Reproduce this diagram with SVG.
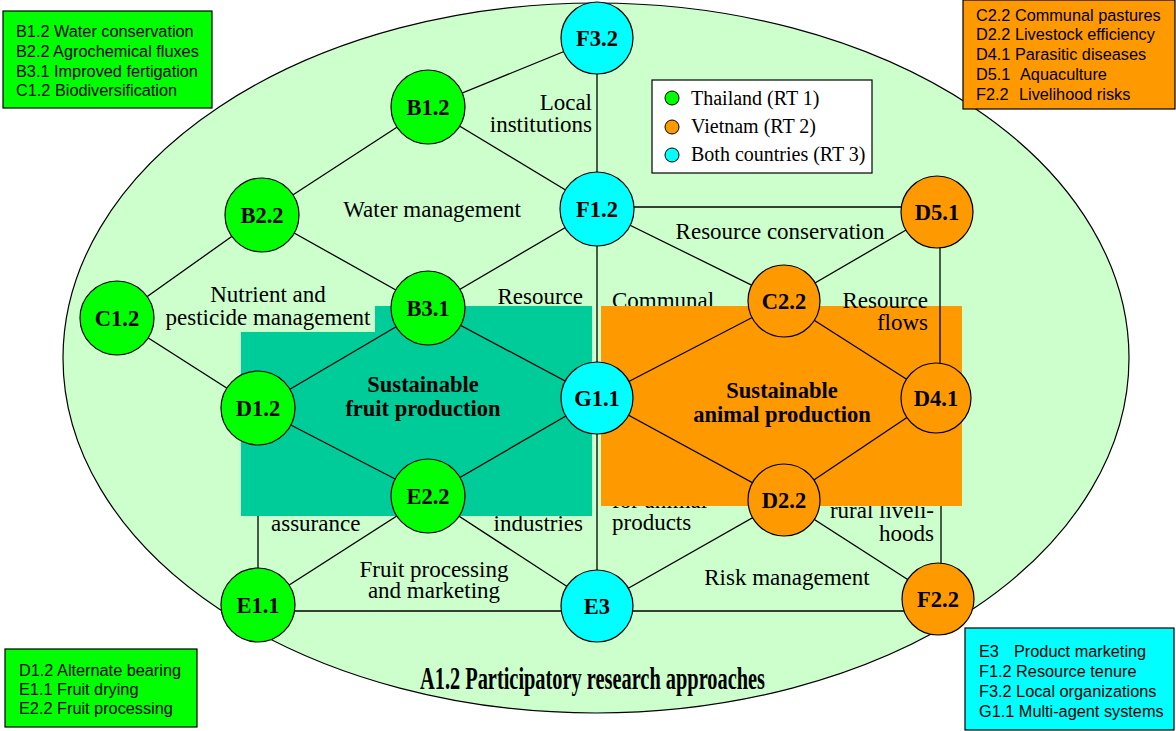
<svg xmlns="http://www.w3.org/2000/svg" width="1176" height="731" viewBox="0 0 1176 731">
<style>
.lbl{font-family:"Liberation Serif","Times New Roman",serif;font-size:23px;fill:#000}
.nd circle{stroke:#000;stroke-width:1.2}
.nd text{font-family:"Liberation Serif","Times New Roman",serif;font-size:22.5px;font-weight:bold;text-anchor:middle;fill:#000}
.g{fill:#00FF00}.o{fill:#FF9900}.c{fill:#00FFFF}
.ln line{stroke:#000;stroke-width:1.3}
.bx{stroke:#000;stroke-width:1.2}
.bt{font-family:"Liberation Sans",Arial,sans-serif;font-size:16.3px;fill:#000}
.lg{font-family:"Liberation Serif","Times New Roman",serif;font-size:20px;fill:#000}
.big{font-family:"Liberation Serif","Times New Roman",serif;font-size:22.5px;font-weight:bold;text-anchor:middle;fill:#000}
</style>
<rect width="1176" height="731" fill="#FFFFFF"/>
<ellipse cx="596" cy="358" rx="533" ry="355" fill="#CCFFCC" stroke="#000" stroke-width="1.2"/>

<g id="labels-back">
<text class="lbl" x="612" y="308">Communal</text>
<text class="lbl" x="612" y="508">for animal</text>
<text class="lbl" x="612" y="530">products</text>
<text class="lbl" x="934" y="518" text-anchor="end">rural liveli-</text>
<text class="lbl" x="934" y="541" text-anchor="end">hoods</text>
<text class="lbl" x="271" y="531">assurance</text>
<text class="lbl" x="583" y="531" text-anchor="end">industries</text>
</g>

<g id="connectors-back" class="ln">
<line x1="258" y1="408" x2="258" y2="605"/>
<line x1="941" y1="398" x2="941" y2="599"/>
<line x1="597" y1="209" x2="597" y2="606"/>
</g>

<rect id="fruit-area" x="241" y="306" width="351" height="210" fill="#00CC99"/>
<rect id="animal-area" x="601" y="306" width="361" height="200" fill="#FF9900"/>

<g id="labels">
<rect x="160" y="306" width="215" height="26" fill="#CCFFCC"/>
<text class="lbl" x="268" y="302" text-anchor="middle">Nutrient and</text>
<text class="lbl" x="268" y="325" text-anchor="middle">pesticide management</text>
<text class="lbl" x="592" y="110" text-anchor="end">Local</text>
<text class="lbl" x="592" y="132" text-anchor="end">institutions</text>
<text class="lbl" x="432" y="217" text-anchor="middle">Water management</text>
<text class="lbl" x="583" y="304" text-anchor="end">Resource</text>
<text class="lbl" x="780" y="239" text-anchor="middle">Resource conservation</text>
<text class="lbl" x="928" y="308" text-anchor="end">Resource</text>
<text class="lbl" x="928" y="330" text-anchor="end">flows</text>
<text class="lbl" x="434" y="577" text-anchor="middle">Fruit processing</text>
<text class="lbl" x="434" y="598" text-anchor="middle">and marketing</text>
<text class="lbl" x="787" y="585" text-anchor="middle">Risk management</text>
<text class="big" x="423" y="392">Sustainable</text>
<text class="big" x="423" y="416">fruit production</text>
<text class="big" x="782" y="398">Sustainable</text>
<text class="big" x="782" y="422">animal production</text>
</g>

<g id="connectors" class="ln">
<line x1="597" y1="38" x2="428" y2="107"/>
<line x1="597" y1="38" x2="597" y2="209"/>
<line x1="428" y1="107" x2="262" y2="215"/>
<line x1="428" y1="107" x2="597" y2="209"/>
<line x1="262" y1="215" x2="117" y2="318"/>
<line x1="262" y1="215" x2="428" y2="308"/>
<line x1="597" y1="209" x2="428" y2="308"/>
<line x1="597" y1="207" x2="937" y2="207"/>
<line x1="597" y1="209" x2="784" y2="301"/>
<line x1="937" y1="212" x2="784" y2="301"/>
<line x1="940" y1="212" x2="940" y2="398"/>
<line x1="117" y1="318" x2="258" y2="408"/>
<line x1="428" y1="308" x2="258" y2="408"/>
<line x1="428" y1="308" x2="597" y2="398"/>
<line x1="784" y1="301" x2="597" y2="398"/>
<line x1="784" y1="301" x2="936" y2="398"/>
<line x1="258" y1="408" x2="428" y2="496"/>
<line x1="597" y1="398" x2="428" y2="496"/>
<line x1="597" y1="398" x2="784" y2="500"/>
<line x1="936" y1="398" x2="784" y2="500"/>
<line x1="428" y1="496" x2="258" y2="605"/>
<line x1="428" y1="496" x2="597" y2="606"/>
<line x1="784" y1="500" x2="597" y2="606"/>
<line x1="784" y1="500" x2="938" y2="599"/>
<line x1="258" y1="611" x2="938" y2="611"/>
</g>

<g id="F3.2" class="nd"><circle class="c" cx="597" cy="38" r="36"/><text x="597" y="46">F3.2</text></g>
<g id="B1.2" class="nd"><circle class="g" cx="428" cy="107" r="37"/><text x="428" y="115">B1.2</text></g>
<g id="B2.2" class="nd"><circle class="g" cx="262" cy="215" r="37"/><text x="262" y="223">B2.2</text></g>
<g id="F1.2" class="nd"><circle class="c" cx="597" cy="209" r="37"/><text x="597" y="217">F1.2</text></g>
<g id="D5.1" class="nd"><circle class="o" cx="937" cy="212" r="36"/><text x="937" y="220">D5.1</text></g>
<g id="C1.2" class="nd"><circle class="g" cx="117" cy="318" r="37"/><text x="117" y="326">C1.2</text></g>
<g id="B3.1" class="nd"><circle class="g" cx="428" cy="308" r="37"/><text x="428" y="316">B3.1</text></g>
<g id="C2.2" class="nd"><circle class="o" cx="784" cy="301" r="36"/><text x="784" y="309">C2.2</text></g>
<g id="D1.2" class="nd"><circle class="g" cx="258" cy="408" r="37"/><text x="258" y="416">D1.2</text></g>
<g id="G1.1" class="nd"><circle class="c" cx="597" cy="398" r="36"/><text x="597" y="406">G1.1</text></g>
<g id="D4.1" class="nd"><circle class="o" cx="936" cy="398" r="35"/><text x="936" y="406">D4.1</text></g>
<g id="E2.2" class="nd"><circle class="g" cx="428" cy="496" r="37"/><text x="428" y="504">E2.2</text></g>
<g id="D2.2" class="nd"><circle class="o" cx="784" cy="500" r="36"/><text x="784" y="508">D2.2</text></g>
<g id="E1.1" class="nd"><circle class="g" cx="258" cy="605" r="37"/><text x="258" y="613">E1.1</text></g>
<g id="E3" class="nd"><circle class="c" cx="597" cy="606" r="36"/><text x="597" y="614">E3</text></g>
<g id="F2.2" class="nd"><circle class="o" cx="938" cy="599" r="36"/><text x="938" y="607">F2.2</text></g>

<g id="legend">
<rect x="652" y="80" width="220" height="93" fill="#FFFFFF" class="bx"/>
<circle cx="672" cy="98" r="7" class="g" stroke="#000"/>
<circle cx="672" cy="127" r="7" class="o" stroke="#000"/>
<circle cx="672" cy="155" r="7" class="c" stroke="#000"/>
<text class="lg" x="691" y="105">Thailand (RT 1)</text>
<text class="lg" x="691" y="133">Vietnam (RT 2)</text>
<text class="lg" x="691" y="161">Both countries (RT 3)</text>
</g>

<g id="box-thailand-top">
<rect x="3" y="11" width="209" height="97" class="g bx"/>
<text class="bt" x="16" y="37">B1.2 Water conservation</text>
<text class="bt" x="16" y="57">B2.2 Agrochemical fluxes</text>
<text class="bt" x="16" y="77">B3.1 Improved fertigation</text>
<text class="bt" x="16" y="96">C1.2 Biodiversification</text>
</g>
<g id="box-vietnam">
<rect x="963" y="0" width="212" height="109" class="o bx"/>
<text class="bt" x="976" y="21">C2.2 Communal pastures</text>
<text class="bt" x="976" y="40">D2.2 Livestock efficiency</text>
<text class="bt" x="976" y="60">D4.1 Parasitic diseases</text>
<text class="bt" x="976" y="80">D5.1<tspan x="1020">Aquaculture</tspan></text>
<text class="bt" x="976" y="100">F2.2<tspan x="1019">Livelihood risks</tspan></text>
</g>
<g id="box-thailand-bottom">
<rect x="5" y="649" width="192" height="78" class="g bx"/>
<text class="bt" x="19" y="676">D1.2 Alternate bearing</text>
<text class="bt" x="19" y="695">E1.1 Fruit drying</text>
<text class="bt" x="19" y="714">E2.2 Fruit processing</text>
</g>
<g id="box-both">
<rect x="965" y="628" width="209" height="102" class="c bx"/>
<text class="bt" x="979" y="657">E3<tspan x="1014">Product marketing</tspan></text>
<text class="bt" x="979" y="677">F1.2 Resource tenure</text>
<text class="bt" x="979" y="697">F3.2 Local organizations</text>
<text class="bt" x="979" y="717">G1.1 Multi-agent systems</text>
</g>

<text x="420" y="689" font-family="'Liberation Serif','Times New Roman',serif" font-size="31" font-weight="bold" textLength="345" lengthAdjust="spacingAndGlyphs">A1.2 Participatory research approaches</text>
</svg>
